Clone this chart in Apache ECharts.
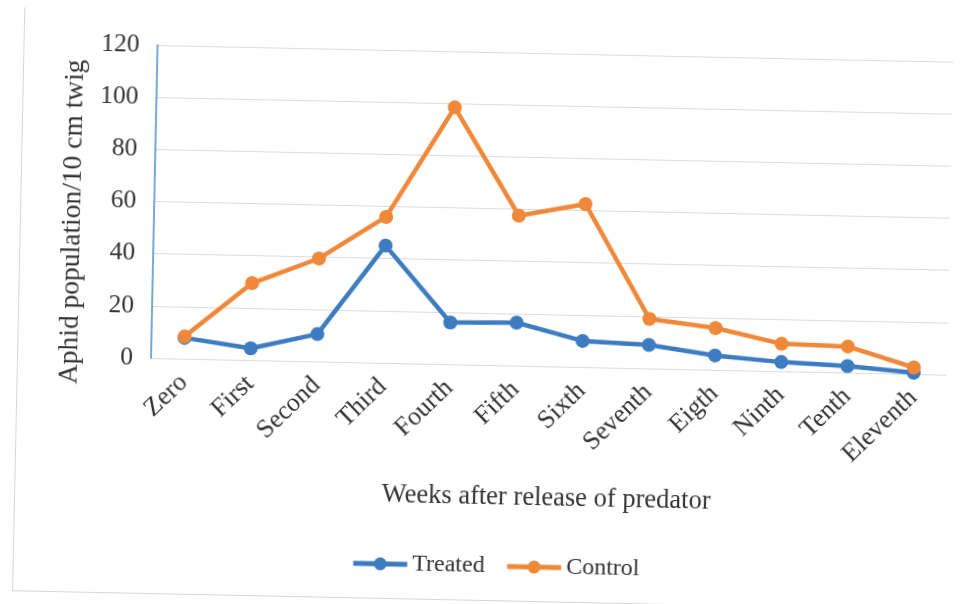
<!DOCTYPE html>
<html>
<head>
<meta charset="utf-8">
<script src="https://cdn.jsdelivr.net/npm/echarts@6/dist/echarts.min.js"></script>
<style>
  html, body { margin: 0; padding: 0; background: #fff; overflow: hidden; }
  #page {
    position: absolute; left: 0; top: 0; width: 969px; height: 604px;
    transform-origin: 151px 358px; transform: rotate(1.2deg);
  }
  #frame {
    position: absolute; left: 17px; top: 10px; width: 1000px; height: 584px;
    border-left: 1px solid #d8d8d8; border-bottom: 1px solid #d8d8d8;
    box-sizing: border-box;
  }
  #chart { position: absolute; left: 0; top: 0; width: 969px; height: 604px; }
</style>
</head>
<body>
<div id="page">
  <div id="frame"></div>
  <div id="chart"></div>
</div>
<script>
// Weeks after predator release
const weeks = ['Zero', 'First', 'Second', 'Third', 'Fourth', 'Fifth', 'Sixth',
               'Seventh', 'Eigth', 'Ninth', 'Tenth', 'Eleventh'];
// Aphids per 10 cm twig
const treated = [8, 4.5, 10.5, 45, 16, 16.5, 10, 9, 5.5, 3.5, 2.5, 0.5];
const control = [8.5, 29.5, 39.5, 56, 98.5, 57.5, 62.5, 19, 16, 10.5, 10, 2.5];
const yTicks = [0, 20, 40, 60, 80, 100, 120];

const serif = '"Liberation Serif", "DejaVu Serif", serif';
const textColor = '#333333';
const blue = '#3d7cc0';
const orange = '#f0883a';

const chart = echarts.init(document.getElementById('chart'));
chart.setOption({
  animation: false,
  backgroundColor: 'transparent',
  textStyle: { fontFamily: serif, color: textColor },
  grid: { left: 151, right: 22, top: 45, bottom: 246, containLabel: false },
  legend: {
    bottom: 28, left: 350, itemGap: 20, itemWidth: 54, itemHeight: 16,
    textStyle: { fontFamily: serif, fontSize: 24, color: textColor },
    lineStyle: { width: 5 },
    data: ['Treated', 'Control']
  },
  xAxis: {
    type: 'category',
    data: weeks,
    boundaryGap: true,
    name: 'Weeks after release of predator',
    nameLocation: 'middle',
    nameGap: 119,
    nameTextStyle: { fontFamily: serif, fontSize: 26.5, color: textColor },
    axisLine: { show: false },
    axisTick: { show: false },
    axisLabel: { rotate: 45, margin: 20, fontFamily: serif, fontSize: 26, color: textColor }
  },
  yAxis: {
    type: 'value',
    min: yTicks[0],
    max: yTicks[yTicks.length - 1],
    interval: yTicks[1] - yTicks[0],
    name: 'Aphid population/10 cm twig',
    nameLocation: 'middle',
    nameGap: 67,
    nameTextStyle: { fontFamily: serif, fontSize: 27.5, color: textColor, padding: [0, 44, 0, 0] },
    axisLine: { show: true, lineStyle: { color: '#4a8cc9', width: 1.5 } },
    axisTick: { show: false },
    axisLabel: { margin: 18, fontFamily: serif, fontSize: 25.5, color: textColor },
    splitLine: { show: true, lineStyle: { color: '#dcdcdc', width: 1 } }
  },
  series: [
    {
      name: 'Treated', type: 'line', data: treated,
      symbol: 'circle', symbolSize: 14,
      lineStyle: { color: blue, width: 4.5 },
      itemStyle: { color: blue }
    },
    {
      name: 'Control', type: 'line', data: control,
      symbol: 'circle', symbolSize: 14,
      lineStyle: { color: orange, width: 4.5 },
      itemStyle: { color: orange }
    }
  ]
});
</script>
</body>
</html>
